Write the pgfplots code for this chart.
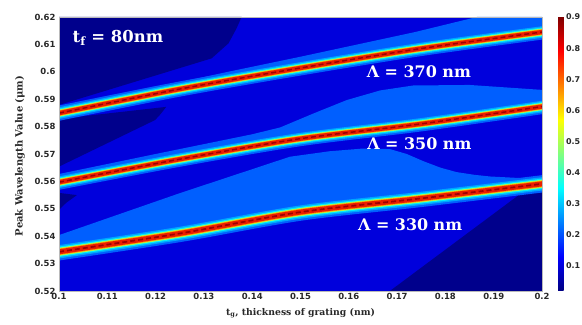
\documentclass[border=0pt]{standalone}
\usepackage{fontspec}
\setmainfont{DejaVu Serif}
\newfontfamily\tickfont{DejaVu Sans}
\usepackage{pgfplots}
\pgfplotsset{compat=1.18}
\usepackage{pgfplotstable}
\pgfplotsset{/pgf/number format/assume math mode=true}

\definecolor{navyc}{RGB}{0,0,140}
\definecolor{medc}{RGB}{0,0,220}
\definecolor{lightc}{RGB}{0,95,255}
\definecolor{azc}{RGB}{0,165,255}
\definecolor{cyc}{RGB}{0,235,255}
\definecolor{ygc}{RGB}{170,255,80}
\definecolor{orc}{RGB}{255,150,0}
\definecolor{redc}{RGB}{235,30,0}
\definecolor{drc}{RGB}{160,0,0}
\definecolor{txtc}{RGB}{40,40,40}

% resonance centre lines (peak wavelength vs grating thickness)
\pgfplotstableread{
x y
0.100 0.5849
0.125 0.5937
0.150 0.6014
0.175 0.6085
0.200 0.6145
}\lineA
\pgfplotstableread{
x y
0.100 0.5597
0.125 0.5681
0.150 0.5756
0.175 0.5810
0.200 0.5873
}\lineB
\pgfplotstableread{
x y
0.100 0.5343
0.125 0.5410
0.150 0.5488
0.175 0.5538
0.200 0.5591
}\lineC

\newcommand{\lay}[3]{%
 \addplot[smooth, draw=#2, line width=#3bp, line cap=rect] table {#1};
}
\newcommand{\resline}[2]{%
 \lay{#1}{lightc}{#2*15}
 \lay{#1}{azc}{#2*11.5}
 \lay{#1}{cyc}{#2*9}
 \lay{#1}{ygc}{#2*7}
 \lay{#1}{orc}{#2*5.6}
 \lay{#1}{redc}{#2*4.3}
 \addplot[smooth, draw=drc, line width=#2*1.5bp, dash pattern=on 5bp off 3bp] table {#1};
}

\begin{document}
\begin{tikzpicture}
\useasboundingbox (-59bp,-34bp) rectangle (523bp,291bp);
\begin{axis}[
  at={(0,0)}, anchor=south west,
  scale only axis, width=483bp, height=274bp,
  xmin=0.1, xmax=0.2, ymin=0.52, ymax=0.62,
  xtick={0.1,0.11,0.12,0.13,0.14,0.15,0.16,0.17,0.18,0.19,0.2},
  ytick={0.52,0.53,0.54,0.55,0.56,0.57,0.58,0.59,0.6,0.61,0.62},
  xticklabels={0.1,0.11,0.12,0.13,0.14,0.15,0.16,0.17,0.18,0.19,0.2},
  yticklabels={0.52,0.53,0.54,0.55,0.56,0.57,0.58,0.59,0.6,0.61,0.62},
  major tick length=0pt,
  tick label style={font=\tickfont\bfseries\fontsize{8.5}{9}\selectfont, text=txtc},
  xticklabel style={yshift=1bp},
  axis on top,
  axis line style={draw=gray!55, line width=0.5bp},
  axis background/.style={fill=medc},
  xlabel={t\textsubscript{g}, thickness of grating (nm)},
  ylabel={Peak Wavelength Value (μm)},
  label style={text=txtc},
  xlabel style={font=\bfseries\fontsize{9.3}{11}\selectfont, at={(axis description cs:0.5,-0.081)}, anchor=center},
  ylabel style={font=\bfseries\fontsize{10}{12}\selectfont, at={(axis description cs:-0.0807,0.4927)}, anchor=center},
  colormap/jet,
  point meta min=0.02, point meta max=0.9,
  colorbar,
  colorbar style={
    at={(parent axis.north east)}, anchor=north west, xshift=7.5bp,
    scale only axis, width=5.5bp, height=274bp,
    ytick={0.1,0.2,0.3,0.4,0.5,0.6,0.7,0.8,0.9},
    yticklabels={0.1,0.2,0.3,0.4,0.5,0.6,0.7,0.8,0.9},
    major tick length=0pt,
    axis line style={draw=none},
    yticklabel style={font=\tickfont\bfseries\fontsize{8}{9}\selectfont, text=txtc, xshift=-1bp},
  },
]
% dark (lowest level) regions
\addplot[fill=navyc, draw=none] coordinates {(0.1,0.62) (0.1378,0.62) (0.1368,0.6160) (0.1351,0.6104) (0.1316,0.6049) (0.1,0.5879)} -- cycle;
\addplot[fill=navyc, draw=none] coordinates {(0.1,0.5828) (0.1222,0.5872) (0.1210,0.5845) (0.1199,0.5824) (0.1,0.5654)} -- cycle;
\addplot[fill=navyc, draw=none] coordinates {(0.1,0.5558) (0.1037,0.5550) (0.1015,0.5522) (0.1,0.5496)} -- cycle;
\addplot[fill=navyc, draw=none] coordinates {(0.1685,0.52) (0.1961,0.5562) (0.2,0.5578) (0.2,0.52)} -- cycle;
% light regions above each resonance
\addplot[fill=lightc, draw=none] coordinates {(0.1,0.5849) (0.125,0.5937) (0.15,0.6014) (0.175,0.6085) (0.2,0.6145) (0.2,0.62) (0.1865,0.62) (0.1737,0.6145) (0.15,0.6055) (0.135,0.6000) (0.125,0.5962) (0.1,0.5868)} -- cycle;
\addplot[fill=lightc, draw=none] coordinates {(0.1,0.5597) (0.125,0.5681) (0.15,0.5756) (0.175,0.5810) (0.2,0.5873) (0.2,0.5934) (0.185,0.5952) (0.1733,0.5950) (0.1665,0.5932) (0.1596,0.5897) (0.1527,0.5848) (0.1458,0.5797) (0.14,0.5772) (0.12,0.5700) (0.1,0.5627)} -- cycle;
\addplot[fill=lightc, draw=none] coordinates {(0.1,0.5404) (0.125,0.5557) (0.1478,0.5690) (0.156,0.5710) (0.1630,0.5720) (0.1685,0.5718) (0.1720,0.5700) (0.1754,0.5674) (0.1790,0.5650) (0.1823,0.5634) (0.1860,0.5624) (0.1892,0.5618) (0.2,0.5608) (0.2,0.5591) (0.175,0.5538) (0.15,0.5488) (0.125,0.5410) (0.1,0.5343)} -- cycle;
% resonance bands
\resline{\lineA}{1}
\resline{\lineB}{1}
\resline{\lineC}{1.15}
% annotations
\node[text=white, font=\bfseries\fontsize{16.5}{18}\selectfont] at (axis cs:0.1122,0.6123) {t\textsubscript{f} = 80nm};
\node[text=white, font=\bfseries\fontsize{16}{18}\selectfont] at (axis cs:0.1745,0.5999) {Λ = 370 nm};
\node[text=white, font=\bfseries\fontsize{16}{18}\selectfont] at (axis cs:0.1746,0.5737) {Λ = 350 nm};
\node[text=white, font=\bfseries\fontsize{16}{18}\selectfont] at (axis cs:0.1727,0.5441) {Λ = 330 nm};
\end{axis}
\end{tikzpicture}
\end{document}
